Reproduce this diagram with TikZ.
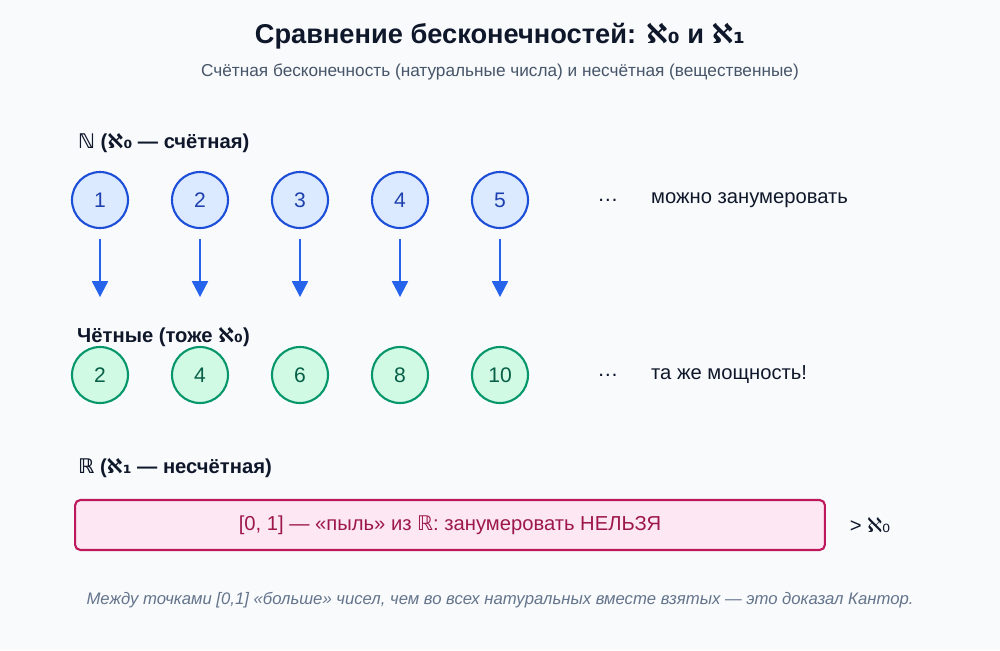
\documentclass[tikz,border=0pt]{standalone}
\usepackage{fontspec}
\setmainfont{Liberation Sans}
\newfontfamily\symfont{DejaVu Sans}
\usetikzlibrary{positioning, arrows.meta}
\definecolor{bgc}{HTML}{F8FAFC}
\definecolor{titlec}{HTML}{0F172A}
\definecolor{subc}{HTML}{475569}
\definecolor{footc}{HTML}{64748B}
\definecolor{blfill}{HTML}{DBEAFE}
\definecolor{bldraw}{HTML}{1D4ED8}
\definecolor{bltext}{HTML}{1E40AF}
\definecolor{arrc}{HTML}{2563EB}
\definecolor{grfill}{HTML}{D1FAE5}
\definecolor{grdraw}{HTML}{059669}
\definecolor{grtext}{HTML}{065F46}
\definecolor{pkfill}{HTML}{FCE7F3}
\definecolor{pkdraw}{HTML}{BE185D}
\definecolor{pktext}{HTML}{9D174D}
\newcommand{\al}[1]{{\symfont ℵ#1}}
\tikzset{
  natnode/.style={draw=bldraw, fill=blfill, text=bltext, circle, line width=1.2pt, minimum size=1.12cm, inner sep=0pt, font=\fontsize{12}{14}\selectfont},
  evennode/.style={draw=grdraw, fill=grfill, text=grtext, circle, line width=1.2pt, minimum size=1.12cm, inner sep=0pt, font=\fontsize{12}{14}\selectfont},
  seclabel/.style={anchor=west, text=titlec, font=\bfseries\fontsize{11.5}{14}\selectfont},
  sidelabel/.style={anchor=west, text=titlec, font=\fontsize{11.5}{14}\selectfont},
  maparrow/.style={-{Triangle[length=9pt,width=9pt]}, draw=arrc, line width=1.2pt}
}
\begin{document}
\begin{tikzpicture}[x=0.02cm, y=-0.02cm]
    \fill[bgc] (0,0) rectangle (1000,650);
    % Title
    \node[text=titlec, font=\bfseries\fontsize{15.5}{18}\selectfont] (title) at (500,36) {Сравнение бесконечностей: \al{₀} и \al{₁}};
    \node[text=subc, font=\fontsize{9.8}{12}\selectfont] (subtitle) at (500,72) {Счётная бесконечность (натуральные числа) и несчётная (вещественные)};

    % Naturals
    \node[seclabel] (natlabel) at (72,143) {{\symfont ℕ} (\al{₀} — счётная)};
    \foreach \i in {1,...,5} {
        \node[natnode] (n\i) at (\i*100,200) {\i};
    }
    \node[text=titlec, font=\fontsize{12}{14}\selectfont] (ndots) at (608,200) {\dots};
    \node[sidelabel] (ntext) at (645,200) {можно занумеровать};

    % Evens
    \node[seclabel] (evlabel) at (71,337) {Чётные (тоже \al{₀})};
    \foreach \i/\v in {1/2,2/4,3/6,4/8,5/10} {
        \node[evennode] (e\i) at (\i*100,375) {\v};
        \draw[maparrow] (n\i.south) ++(0,10) coordinate (s\i) -- ++(0,58) coordinate (t\i);
    }
    \node[text=titlec, font=\fontsize{12}{14}\selectfont] (edots) at (608,375) {\dots};
    \node[sidelabel] (etext) at (645,375) {та же мощность!};

    % Reals
    \node[seclabel] (reallabel) at (72,468) {{\symfont ℝ} (\al{₁} — несчётная)};
    \node[draw=pkdraw, fill=pkfill, text=pktext, rounded corners=3pt, line width=1.2pt,
          minimum width=15cm, minimum height=1cm, font=\fontsize{11.5}{14}\selectfont]
          (interval) at (450,525) {[0, 1] — «пыль» из {\symfont ℝ}: занумеровать НЕЛЬЗЯ};
    \node[sidelabel, right=10pt of interval] (gt) {> \al{₀}};

    % Footer
    \node[text=footc, font=\itshape\fontsize{9.5}{12}\selectfont] (footer) at (500,600) {Между точками [0,1] «больше» чисел, чем во всех натуральных вместе взятых — это доказал Кантор.};
\end{tikzpicture}
\end{document}
